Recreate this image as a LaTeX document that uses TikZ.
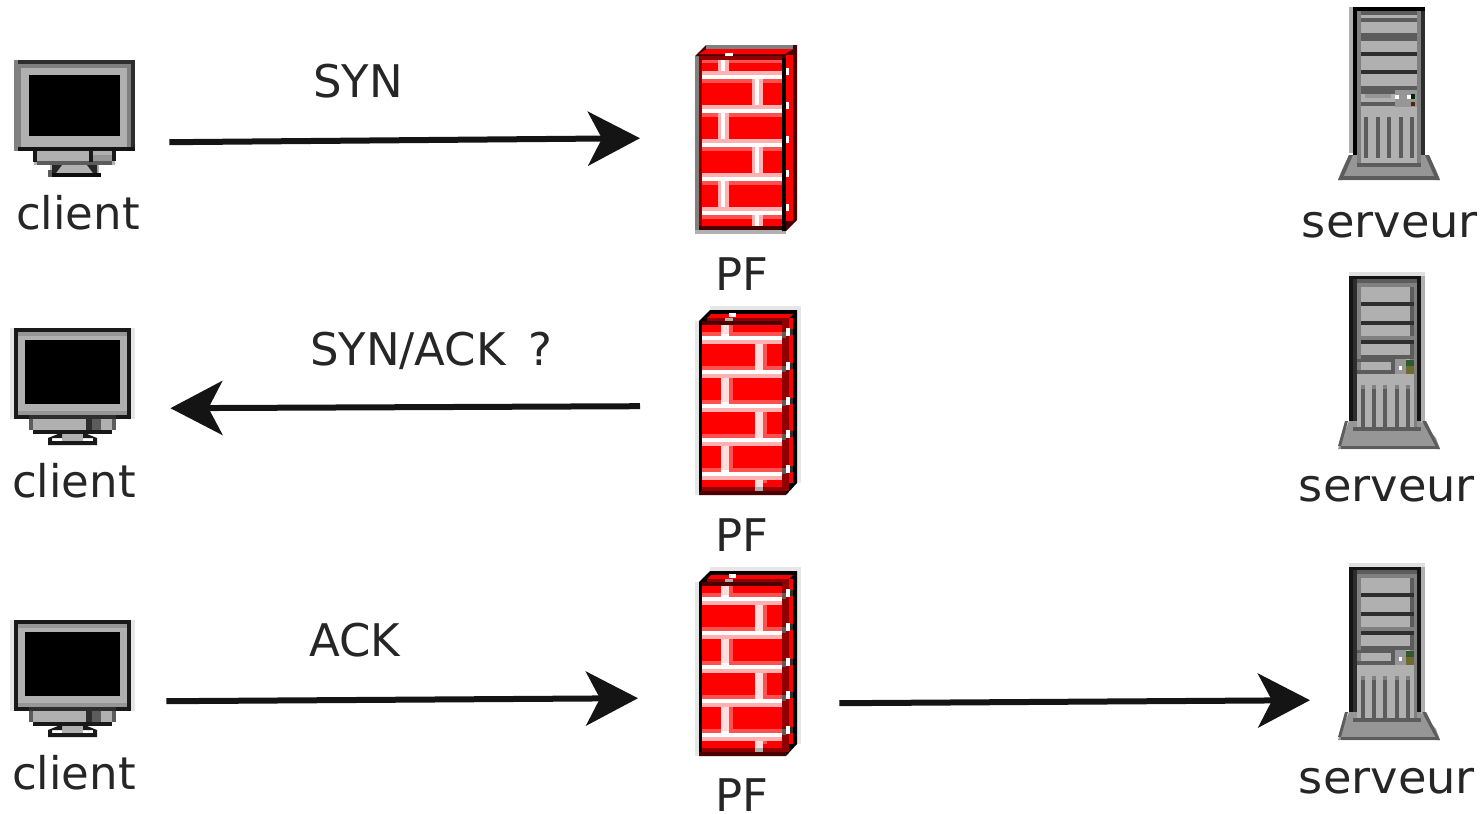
\documentclass[tikz,border=0pt]{standalone}
\usepackage{fontspec}
\setmainfont{DejaVu Sans}
\usetikzlibrary{arrows.meta}
\definecolor{gA}{HTML}{B0B0B0}
\definecolor{gB}{HTML}{808080}
\definecolor{gC}{HTML}{5C5C5C}
\definecolor{gD}{HTML}{2E2E2E}
\definecolor{gE}{HTML}{969696}
\definecolor{halo}{HTML}{E6E6E6}
\definecolor{fwred}{HTML}{FF0000}
\definecolor{fwdark}{HTML}{4A0000}
\definecolor{fwmid}{HTML}{900000}
\definecolor{fwlight}{HTML}{FF5050}
\definecolor{fwpink}{HTML}{FFB0B0}
\definecolor{fwpale}{HTML}{FFDDDD}
\definecolor{ledg}{HTML}{2E5A2E}
\definecolor{ledy}{HTML}{6E6A30}
\tikzset{
  x=1pt,y=-1pt,
  lbl/.style={font=\fontsize{45}{50}\selectfont,anchor=base,inner sep=0pt,text=black!85},
  hold/.style={inner sep=0pt,anchor=north west,minimum width=#1},
  flow/.style={line width=6pt,draw=black!92,-{Stealth[length=52pt,width=54pt,inset=14pt]}},
  pics/clientA/.style={code={
    \fill[gB] (0,0) rectangle (121,91);
    \fill[gD] (4,0) rectangle (121,4);
    \fill[gD] (117,0) rectangle (121,91);
    \fill[gA] (7,8) rectangle (113,87);
    \fill[black] (15,15) rectangle (106,76);
    \fill[black!92] (4,87) rectangle (121,91);
    \fill[gA] (20,91) rectangle (101,105);
    \fill[gC] (23,101) rectangle (98,105);
    \fill[black!90] (19,91) rectangle (23,102);
    \fill[black!90] (75,91) rectangle (79,102);
    \fill[black!90] (98,91) rectangle (102,101);
    \fill[gE] (79,95) rectangle (98,101);
    \fill[gA] (36,105) rectangle (85,116);
    \fill[black!85] (38,105) -- (48,105) -- (42,113) -- (38,113) -- cycle;
    \fill[black!85] (73,105) -- (83,105) -- (83,113) -- (79,113) -- cycle;
    \fill[gC] (34,110) rectangle (38,117);
    \fill[black!95] (38,113) rectangle (87,117);
  }},
  pics/clientB/.style={code={
    \fill[halo] (-4,0) rectangle (121,91);
    \fill[black!90] (0,0) rectangle (117,91);
    \fill[gA] (4,4) rectangle (113,87);
    \fill[gE] (4,4) rectangle (113,8);
    \fill[black] (11,12) rectangle (106,76);
    \fill[gE] (4,83) rectangle (113,87);
    \fill[black!90] (0,87) rectangle (117,91);
    \fill[gA] (19,91) rectangle (102,102);
    \fill[gD] (15,87) rectangle (102,91);
    \fill[gC] (15,91) rectangle (19,102);
    \fill[gC] (98,91) rectangle (102,102);
    \fill[gD] (72,91) rectangle (78,102);
    \fill[gC] (78,91) rectangle (87,102);
    \fill[black!90] (19,102) rectangle (98,106);
    \fill[gA] (48,106) rectangle (69,114);
    \fill[black!90] (34,110) -- (44,106) -- (48,106) -- (48,110) -- (38,110) -- (38,113) -- (79,113) -- (79,110) -- (69,110) -- (69,106) -- (73,106) -- (83,110) -- (83,117) -- (34,117) -- cycle;
  }},
  pics/firewallA/.style={code={
    \fill[gB] (0,11) rectangle (4,185);
    \fill[gA] (0,185) rectangle (91,189);
    \fill[fwdark] (0,11) -- (11,0) -- (102,0) -- (102,175) -- (91,186) -- (87,186) -- (87,11) -- cycle;
    \fill[gB] (11,0) rectangle (98,4);
    \fill[fwred] (4,9) -- (12,4) -- (98,4) -- (90,9) -- cycle;
    \fill[white] (30,8) rectangle (38,12);
    \fill[fwred] (91,10) rectangle (98,176);
    \fill[fwred] (4,11) rectangle (87,185);
    \fill[fwmid] (4,11) rectangle (87,15);
    \fill[fwdark] (4,181) rectangle (87,185);
    \fill[fwmid] (4,15) rectangle (7,181);
    \foreach \yy in {26,60,94,128,162}{
      \fill[fwpink] (7,\yy) rectangle (87,\yy+4);
      \fill[white] (7,\yy+4) rectangle (87,\yy+8);
      \fill[fwlight] (7,\yy+8) rectangle (87,\yy+12);
    }
    \fill[fwlight] (7,15) rectangle (87,18);
    \foreach \yy/\yb in {15/26,68/94,136/162}{
      \fill[fwpink] (23,\yy) rectangle (34,\yb);
      \fill[white] (26,\yy) rectangle (30,\yb);
    }
    \foreach \yy/\yb in {34/60,102/128,170/181}{
      \fill[fwpink] (57,\yy) rectangle (68,\yb);
      \fill[white] (60,\yy) rectangle (64,\yb);
    }
    \fill[black] (87,13) rectangle (91,186);
    \foreach \yy in {23,57,91,125,159}{
      \fill[white] (91,\yy) rectangle (94,\yy+7);
    }
  }},
  pics/firewallB/.style={code={
    \fill[halo] (-4,11) rectangle (0,185);
    \fill[halo] (11,-4) rectangle (102,0);
    \fill[halo] (98,0) rectangle (102,173);
    \fill[black] (0,11) -- (11,0) -- (98,0) -- (98,173) -- (87,185) -- (0,185) -- cycle;
    \fill[fwred] (12,4) -- (94,4) -- (90,8) -- (8,8) -- cycle;
    \fill[fwmid] (8,8) rectangle (90,11);
    \fill[white] (30,3) rectangle (37,7);
    \fill[gA] (26,8) rectangle (34,11);
    \fill[fwdark] (3,11) rectangle (90,15);
    \fill[fwred] (3,15) rectangle (83,181);
    \fill[fwmid] (83,11) rectangle (90,181);
    \fill[fwred] (90,8) rectangle (94,173);
    \foreach \yy in {26,60,94,128,162}{
      \fill[fwlight] (3,\yy-4) rectangle (83,\yy);
      \fill[white] (3,\yy) rectangle (83,\yy+4);
      \fill[fwpink] (3,\yy+4) rectangle (83,\yy+8);
      \fill[gC] (83,\yy-4) rectangle (87,\yy+2);
    }
    \foreach \yy/\yb in {15/26,68/94,136/162}{
      \fill[fwlight] (30,\yy) rectangle (34,\yb-4);
      \fill[fwpale] (22,\yy) rectangle (30,\yb);
      \fill[white] (22,\yb-2) rectangle (30,\yb);
    }
    \foreach \yy/\yb in {34/60,102/128,170/177}{
      \fill[fwlight] (64,\yy) rectangle (68,\yb-4);
      \fill[fwpale] (56,\yy) rectangle (64,\yb);
    }
    \fill[fwmid] (3,177) rectangle (83,181);
    \fill[gA] (56,177) rectangle (64,181);
    \fill[fwdark] (0,181) rectangle (87,185);
    \foreach \yy in {18,52,87,120,155}{
      \fill[white] (87,\yy) rectangle (91,\yy+8);
      \fill[gD] (91,\yy+1) rectangle (94,\yy+7);
    }
  }},
  pics/towerA/.style={code={
    \fill[gE] (-11,173) -- (-7,163) -- (0,148) -- (80,148) -- (87,163) -- (91,173) -- cycle;
    \fill[gA] (0,0) rectangle (4,146);
    \fill[black] (4,0) rectangle (76,148);
    \fill[gB] (8,4) rectangle (72,156);
    \fill[gC] (12,4) rectangle (68,8);
    \fill[gA] (12,8) rectangle (68,156);
    \fill[gD] (72,4) rectangle (76,148);
    \fill[gC] (12,11) rectangle (68,15);
    \fill[gC] (12,26) rectangle (68,34);
    \fill[gD] (12,45) rectangle (68,49);
    \fill[gD] (12,63) rectangle (68,67);
    \fill[gC] (12,79) rectangle (68,83);
    \fill[gC] (12,83) rectangle (46,87);
    \fill[gE] (46,83) rectangle (68,100);
    \fill[gE] (16,87) rectangle (42,91);
    \fill[gC] (12,95) rectangle (46,99);
    \fill[white] (46,88) rectangle (50,92);
    \fill[white] (58,88) rectangle (62,92);
    \fill[black!85!green] (62,87) rectangle (66,92);
    \fill[black!70!orange] (62,95) rectangle (66,99);
    \foreach \xx in {15,27,38,50,61}{
      \fill[gC] (\xx,110) rectangle (\xx+4,151);
    }
    \fill[gC] (8,156) rectangle (72,160);
    \fill[gC] (-7,169) rectangle (87,173);
    \fill[gC] (0,148) -- (4,148) -- (-7,173) -- (-11,173) -- cycle;
    \fill[gC] (76,148) -- (80,148) -- (91,173) -- (87,173) -- cycle;
  }},
  pics/towerB/.style={code={
    \fill[gE] (-11,174) -- (-7,163) -- (0,146) -- (72,146) -- (87,163) -- (91,174) -- cycle;
    \fill[gC] (-8,171) rectangle (88,174);
    \fill[gC] (-4,146) -- (-1,146) -- (-8,171) -- (-11,171) -- cycle;
    \fill[gC] (73,146) -- (77,146) -- (91,174) -- (88,174) -- cycle;
    \fill[black!12] (0,-3) rectangle (76,1);
    \fill[gA] (72,1) rectangle (76,146);
    \fill[black!92] (0,1) rectangle (72,146);
    \fill[gD] (4,4) rectangle (8,146);
    \fill[gB] (8,4) rectangle (68,152);
    \fill[gC] (8,4) rectangle (68,8);
    \fill[gA] (12,12) rectangle (61,152);
    \fill[gC] (61,12) rectangle (65,84);
    \fill[gD] (12,27) rectangle (65,31);
    \fill[gD] (12,46) rectangle (65,50);
    \fill[gB] (12,61) rectangle (65,65);
    \fill[gD] (12,65) rectangle (65,69);
    \fill[gC] (12,80) rectangle (65,84);
    \fill[gC] (8,84) rectangle (46,87);
    \fill[gC] (8,95) rectangle (46,99);
    \fill[gC] (42,84) rectangle (46,99);
    \fill[gE] (46,84) rectangle (57,99);
    \fill[white] (50,91) rectangle (53,95);
    \fill[ledg] (57,85) rectangle (65,91);
    \fill[ledy] (57,91) rectangle (65,99);
    \fill[gA] (8,99) rectangle (65,152);
    \foreach \xx in {12,23,34,46,57}{
      \fill[gC] (\xx,110) rectangle (\xx+4,152);
      \fill[gB] (\xx,110) rectangle (\xx+4,114);
    }
    \fill[gC] (4,152) rectangle (72,156);
  }}
}
\begin{document}
\begin{tikzpicture}[x=1pt,y=-1pt]
\useasboundingbox (0,0) rectangle (1484,814);
% holders: empty named nodes the size of each icon
\node[hold=121pt,minimum height=117pt] (c1) at (14,60) {};
\node[hold=117pt,minimum height=117pt] (c2) at (14,328) {};
\node[hold=117pt,minimum height=117pt] (c3) at (14,620) {};
\node[hold=102pt,minimum height=189pt] (f1) at (695,45) {};
\node[hold=98pt,minimum height=185pt] (f2) at (699,310) {};
\node[hold=98pt,minimum height=185pt] (f3) at (699,571) {};
\node[hold=76pt,minimum height=173pt] (s1) at (1349,7) {};
\node[hold=76pt,minimum height=173pt] (s2) at (1349,275) {};
\node[hold=76pt,minimum height=173pt] (s3) at (1349,566) {};
\pic at (c1.north west) {clientA};
\pic at (c2.north west) {clientB};
\pic at (c3.north west) {clientB};
\pic at (f1.north west) {firewallA};
\pic at (f2.north west) {firewallB};
\pic at (f3.north west) {firewallB};
\pic at (s1.north west) {towerA};
\pic at (s2.north west) {towerB};
\pic at (s3.north west) {towerB};
% connectors
\draw[flow] ([shift={(34,23.5)}]c1.east) -- ([shift={(-55,-1.5)}]f1.west);
\draw[flow] ([shift={(-59,3.5)}]f2.west) -- ([shift={(39,21.5)}]c2.east);
\draw[flow] ([shift={(35,22.5)}]c3.east) -- ([shift={(-61,34.5)}]f3.west);
\draw[flow] ([shift={(42,39.5)}]f3.east) -- ([shift={(-39,47.5)}]s3.west);
% labels
\node[lbl] (tc1) at (78,229) {client};
\node[lbl] (tc2) at (74,497) {client};
\node[lbl] (tc3) at (74,789) {client};
\node[lbl] (tf1) at (742,290) {PF};
\node[lbl] (tf2) at (742,551) {PF};
\node[lbl] (tf3) at (742,811) {PF};
\node[lbl,xscale=1.03] (ts1) at (1390,237) {serveur};
\node[lbl,xscale=1.03] (ts2) at (1387,501) {serveur};
\node[lbl,xscale=1.03] (ts3) at (1387,793) {serveur};
\node[lbl] (l1) at (358,97) {SYN};
\node[lbl] (l2) at (431,365) {SYN/ACK\hspace{8pt} ?};
\node[lbl] (l3) at (355,656) {ACK};
\end{tikzpicture}
\end{document}
